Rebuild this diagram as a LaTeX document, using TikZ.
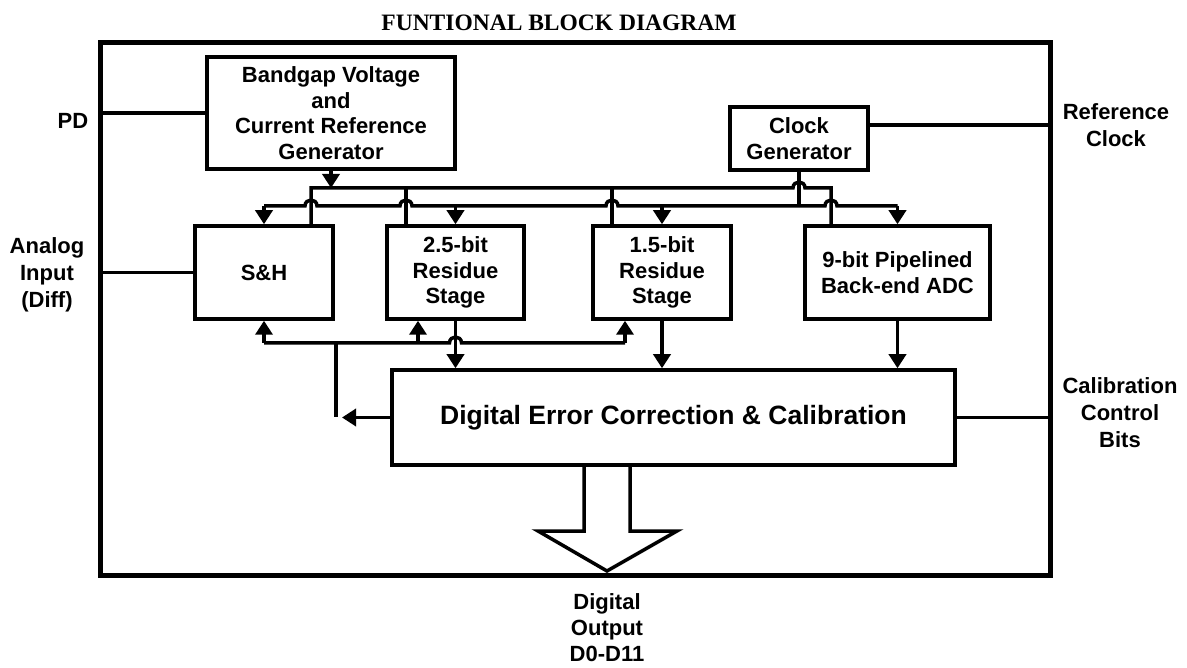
\documentclass[tikz,border=0pt]{standalone}
\usepackage{fontspec}
\setmainfont{Liberation Serif}
\newfontfamily\arialf{Liberation Sans}
\usetikzlibrary{arrows.meta}
\begin{document}
\begin{tikzpicture}[x=1pt,y=-1pt,
  lbl/.style={font=\arialf\bfseries\fontsize{22}{27}\selectfont, align=center, inner sep=0pt},
  blk/.style={draw, line width=3.5pt, fill=white, font=\arialf\bfseries\fontsize{22}{25.5}\selectfont, align=center, inner sep=0pt},
  wire/.style={line width=3.5pt},
  arr/.style={wire, -{Triangle[width=17pt,length=14pt]}},
]
\useasboundingbox (0,0) rectangle (1187,668);

% title
\node[font=\bfseries\fontsize{23.5}{28}\selectfont, inner sep=0pt] (title) at (559,23) {FUNTIONAL BLOCK DIAGRAM};

% chip frame
\node[draw, line width=5pt, minimum width=950pt, minimum height=533pt, inner sep=0pt] (chip) at (575,309) {};

% digital output block arrow
\draw[line width=3.5pt, fill=white] (584,465) -- (584,531) -- (538,531) -- (607,571) -- (677,531) -- (630,531) -- (630,465);

% blocks
\node[blk, minimum width=248pt, minimum height=112pt] (bg) at (331,113) {Bandgap Voltage\\and\\Current Reference\\Generator};
\node[blk, minimum width=138pt, minimum height=63pt] (clk) at (799,138.5) {Clock\\Generator};
\node[blk, minimum width=138pt, minimum height=93pt] (sh) at (264,272.5) {S\&H};
\node[blk, minimum width=137pt, minimum height=93pt] (two) at (455.5,272.5) {2.5-bit\\Residue\\Stage};
\node[blk, minimum width=138pt, minimum height=93pt] (one) at (662,272.5) {1.5-bit\\Residue\\Stage};
\node[blk, minimum width=185pt, minimum height=93pt] (nine) at (897.5,272.5) {9-bit Pipelined\\Back-end ADC};
\node[blk, minimum width=563pt, minimum height=95pt, font=\arialf\bfseries\fontsize{26.5}{30}\selectfont] (dig) at (673.5,417.5) {Digital Error Correction \& Calibration};

% external labels
\node[lbl] (pd) at (73,120.5) {PD};
\node[lbl] (ain) at (47,275) {Analog\\Input\\(Diff)};
\node[lbl] (rck) at (1116,125) {Reference\\Clock};
\node[lbl] (cal) at (1120,413) {Calibration\\Control\\Bits};
\node[lbl, font=\arialf\bfseries\fontsize{22}{26}\selectfont] (dout) at (607,628) {Digital\\Output\\D0-D11};

% external wires
\draw[wire] (bg.west) -- (bg.west -| chip.west);
\draw[wire] (sh.west) -- (sh.west -| chip.west);
\draw[wire] ([yshift=13.5pt]clk.east) coordinate (rc) -- (rc -| chip.east);
\draw[wire] (dig.east) -- (dig.east -| chip.east);

% bus levels
\coordinate (ub) at (0,188);
\coordinate (lb) at (0,206);
\coordinate (bb) at (0,343);
\coordinate (u1) at (311,188);
\coordinate (u2) at (406,188);
\coordinate (u3) at (612,188);
\coordinate (u4) at (831,188);
\coordinate (b2) at (418,343);
\coordinate (b3) at (625,343);
\coordinate (bf) at (336,343);
\coordinate (fbt) at (342,417.5);

% bandgap reference bus (upper)
\draw[arr] (bg.south) -- (bg.south |- ub);
\draw[wire] (u1 |- sh.north) -- (u1) -- (793,188) .. controls (793,180) and (805,180) .. (805,188) -- (u4) -- (u4 |- nine.north);
\draw[wire] (u2) -- (u2 |- two.north);
\draw[wire] (u3) -- (u3 |- one.north);

% clock bus (lower)
\draw[wire] (clk.south) -- (clk.south |- lb);
\draw[wire] (sh.north |- lb) -- (305,206) .. controls (305,198) and (317,198) .. (317,206)
  -- (400,206) .. controls (400,198) and (412,198) .. (412,206)
  -- (606,206) .. controls (606,198) and (618,198) .. (618,206)
  -- (825,206) .. controls (825,198) and (837,198) .. (837,206)
  -- (nine.north |- lb);
\draw[arr] (sh.north |- lb) -- (sh.north);
\draw[arr] (two.north |- lb) -- (two.north);
\draw[arr] (one.north |- lb) -- (one.north);
\draw[arr] (nine.north |- lb) -- (nine.north);

% calibration feedback bus (bottom)
\draw[wire] (sh.south |- bb) -- (449.5,343) .. controls (449.5,335) and (461.5,335) .. (461.5,343) -- (b3);
\draw[arr] (sh.south |- bb) -- (sh.south);
\draw[arr] (b2) -- (b2 |- two.south);
\draw[arr] (b3) -- (b3 |- one.south);
\draw[wire] (bf) -- (bf |- dig.west);
\draw[arr] (dig.west) -- (fbt);

% stage outputs to correction logic
\draw[arr] (two.south) -- (two.south |- dig.north);
\draw[arr] (one.south) -- (one.south |- dig.north);
\draw[arr] (nine.south) -- (nine.south |- dig.north);
\end{tikzpicture}
\end{document}
